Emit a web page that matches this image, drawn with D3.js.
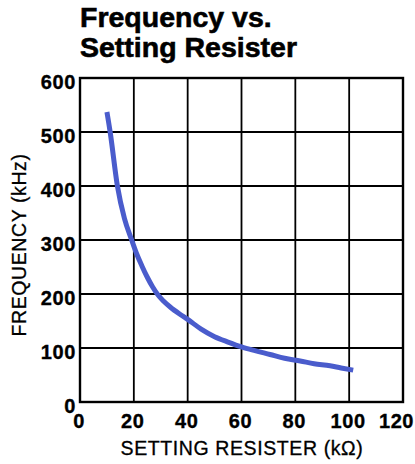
<!DOCTYPE html>
<html><head><meta charset="utf-8">
<script src="https://cdn.jsdelivr.net/npm/d3@7"></script>
<style>body{margin:0;background:#fff}svg{display:block}</style>
</head><body>
<script>
const titleLines = ["Frequency vs.", "Setting Resister"];
const xLabel = "SETTING RESISTER (k\u03A9)";
const yLabel = "FREQUENCY (kHz)";
const xTicks = [0, 20, 40, 60, 80, 100, 120];
const yTicks = [0, 100, 200, 300, 400, 500, 600];
const resistance = [10, 11.2, 13.9, 16.5, 19.2, 21, 23, 25, 27, 29, 31, 33.5, 37, 40, 45, 50, 55, 60, 65, 70.6, 76, 81.8, 87, 92.9, 97, 101.5];
const frequency  = [537, 500, 400, 340, 300, 275, 252, 231, 213, 198, 187, 176, 163, 153, 135, 121, 111, 102, 95, 88, 81, 76, 71, 67, 63, 59];

const W = 415, H = 464;
const FONT = "Liberation Sans, Arial, Helvetica, sans-serif";
const svg = d3.select("body").append("svg").attr("width", W).attr("height", H);
const x = d3.scaleLinear().domain([0, 120]).range([80, 403]);
const y = d3.scaleLinear().domain([0, 600]).range([402, 78]);

// title
svg.append("text")
  .attr("font-family", FONT).attr("font-weight", "bold")
  .attr("font-size", 28.5).attr("fill", "#000").attr("stroke", "#000").attr("stroke-width", 0.6)
  .selectAll("tspan").data(titleLines).join("tspan")
  .attr("x", 80).attr("y", (d, i) => i ? 56.5 : 26.5).text(d => d);

// grid
const g = svg.append("g");
g.selectAll(".vx").data(xTicks.slice(1, -1)).join("line")
  .attr("x1", d => x(d)).attr("x2", d => x(d)).attr("y1", y(0)).attr("y2", y(600))
  .attr("stroke", "#000").attr("stroke-width", 1.8);
g.selectAll(".hy").data(yTicks.slice(1, -1)).join("line")
  .attr("y1", d => y(d)).attr("y2", d => y(d)).attr("x1", x(0)).attr("x2", x(120))
  .attr("stroke", "#000").attr("stroke-width", 1.8);
g.append("rect").attr("x", x(0)).attr("y", y(600)).attr("width", x(120) - x(0)).attr("height", y(0) - y(600))
  .attr("fill", "none").attr("stroke", "#000").attr("stroke-width", 2.4);

// axes labels via d3 axes
const xa = svg.append("g").attr("transform", `translate(0,${y(0)})`)
  .call(d3.axisBottom(x).tickValues(xTicks).tickSize(0).tickPadding(10));
const ya = svg.append("g").attr("transform", `translate(${x(0)},0)`)
  .call(d3.axisLeft(y).tickValues(yTicks).tickSize(0).tickPadding(4));
[xa, ya].forEach(a => {
  a.select(".domain").remove();
  a.selectAll("text").attr("font-family", FONT)
    .attr("font-weight", "bold").attr("font-size", 20).attr("fill", "#000")
    .attr("stroke", "#000").attr("stroke-width", 0.35).attr("letter-spacing", 0.6);
});
xa.selectAll("text").attr("y", 26).attr("dy", 0)
  .attr("dx", d => d === 120 ? -7 : -1.5);
ya.selectAll("text").attr("dy", "0.53em");

svg.append("text").attr("x", 242).attr("y", 455)
  .attr("text-anchor", "middle").attr("font-family", FONT)
  .attr("font-size", 19.5).attr("letter-spacing", 0.6).attr("fill", "#000")
  .attr("stroke", "#000").attr("stroke-width", 0.3).text(xLabel);
svg.append("text").attr("transform", `translate(25.5,245) rotate(-90)`)
  .attr("text-anchor", "middle").attr("font-family", FONT)
  .attr("font-size", 19.5).attr("letter-spacing", 0.6).attr("fill", "#000")
  .attr("stroke", "#000").attr("stroke-width", 0.3).text(yLabel);

// curve
const pts = resistance.map((r, i) => [r, frequency[i]]);
svg.append("path").datum(pts)
  .attr("d", d3.line().x(d => x(d[0])).y(d => y(d[1])).curve(d3.curveMonotoneX))
  .attr("fill", "none").attr("stroke", "#4a5ccc").attr("stroke-width", 5);
</script>
</body></html>
